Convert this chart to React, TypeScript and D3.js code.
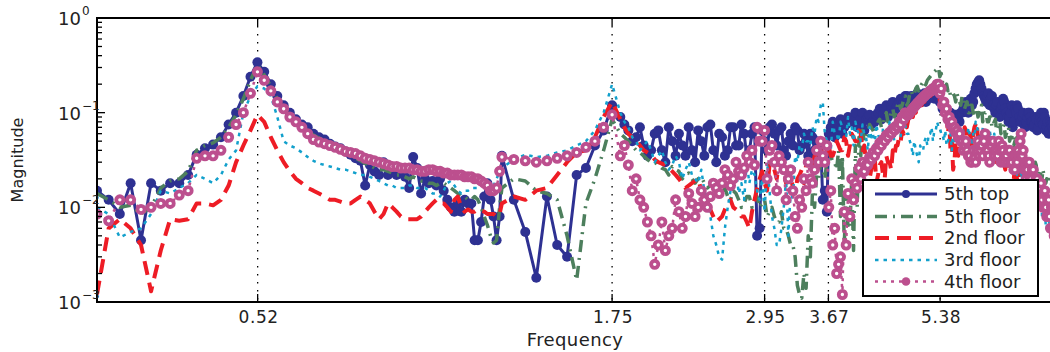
import React from 'react';
import * as d3 from 'd3';

// frequency sampling: fine grid below 1.2, coarser grid above,
// plus a set of in-between samples above 1.8 where the spectra get noisy
const LOW_F0 = 0.3;
const LOW_DF = 0.0122;
const HIGH_F0 = 1.2;
const HIGH_DF = 0.05;
const MID_F0 = 1.825;
const MID_DF = 0.05;

// 5th top
const topLow = [
  0.015, 0.012, 0.0085, 0.018, 0.0045, 0.018, 0.015, 0.018, 0.018, 0.022,
  0.036, 0.042, 0.046, 0.055, 0.075, 0.1, 0.15, 0.24, 0.34, 0.27,
  0.2, 0.15, 0.12, 0.1, 0.085, 0.075, 0.07, 0.06, 0.055, 0.052,
  0.047, 0.044, 0.042, 0.039, 0.036, 0.033, 0.031, 0.017, 0.028, 0.024,
  0.022, 0.03, 0.022, 0.025, 0.022, 0.023, 0.021, 0.016, 0.034, 0.026,
  0.014, 0.02, 0.018, 0.019, 0.017, 0.02, 0.015, 0.012, 0.01, 0.009,
  0.011, 0.009, 0.012, 0.011, 0.011, 0.0045, 0.0045, 0.007, 0.013, 0.018,
  0.012, 0.008, 0.0045, 0.008,
];
const topHigh = [
  0.035, 0.012, 0.0055, 0.0018, 0.013, 0.004, 0.003, 0.022, 0.026, 0.045,
  0.065, 0.12, 0.09, 0.065, 0.055, 0.045, 0.04, 0.065, 0.03, 0.05,
  0.06, 0.035, 0.04, 0.065, 0.035, 0.075, 0.03, 0.055, 0.04, 0.07,
  0.045, 0.06, 0.04, 0.07, 0.006, 0.05, 0.07, 0.06, 0.065, 0.04,
  0.05, 0.045, 0.065, 0.045, 0.05, 0.06, 0.04, 0.03, 0.012, 0.009,
  0.07, 0.055, 0.075, 0.06, 0.075, 0.085, 0.09, 0.07, 0.085, 0.065,
  0.09, 0.075, 0.08, 0.1, 0.085, 0.11, 0.09, 0.12, 0.1, 0.12,
  0.14, 0.13, 0.15, 0.12, 0.14, 0.13, 0.15, 0.13, 0.16, 0.14,
  0.17, 0.15, 0.16, 0.14, 0.13, 0.12, 0.1, 0.09, 0.085, 0.09,
  0.08, 0.08, 0.1, 0.12, 0.11, 0.13, 0.12, 0.16, 0.2, 0.22,
  0.18, 0.15, 0.13, 0.16, 0.14, 0.12, 0.1, 0.13, 0.09, 0.12,
  0.13, 0.1, 0.08, 0.1, 0.07, 0.11, 0.12, 0.09, 0.08, 0.1,
  0.07, 0.09, 0.1, 0.08, 0.07, 0.09, 0.065, 0.08, 0.1, 0.075,
  0.09, 0.07, 0.06, 0.08, 0.07, 0.06, 0.07,
];
const topMid = [
  0.075, 0.05, 0.07, 0.035, 0.06, 0.04, 0.07, 0.035, 0.045, 0.07,
  0.03, 0.05, 0.07, 0.04, 0.06, 0.035, 0.07, 0.045, 0.075, 0.035,
  0.06, 0.005, 0.065, 0.04, 0.075, 0.045, 0.07, 0.035, 0.06, 0.07,
  0.04, 0.06, 0.035, 0.055, 0.05, 0.045, 0.015, 0.06, 0.08, 0.065,
  0.085, 0.07, 0.09, 0.08, 0.1, 0.075, 0.1, 0.085, 0.095, 0.08,
  0.095, 0.11, 0.095, 0.12, 0.1, 0.13, 0.11, 0.13, 0.12, 0.15,
  0.13, 0.15, 0.14, 0.16, 0.14, 0.15, 0.13, 0.16, 0.15, 0.14,
  0.15, 0.13, 0.11, 0.1, 0.09, 0.1, 0.08, 0.095, 0.085, 0.1,
  0.11, 0.13, 0.1, 0.14, 0.13, 0.18, 0.21, 0.2, 0.16, 0.14,
  0.15, 0.12, 0.15, 0.11, 0.12, 0.1, 0.11, 0.14, 0.11, 0.09,
  0.09, 0.12, 0.08, 0.1, 0.11, 0.08, 0.09, 0.075, 0.08, 0.1,
  0.09, 0.08, 0.075, 0.085, 0.07, 0.09, 0.08, 0.1, 0.065, 0.08,
  0.065, 0.075, 0.065, 0.06,
];

// 5th floor
const fifthLow = [
  0.014, 0.012, 0.01, 0.0105, 0.0085, 0.01, 0.016, 0.019, 0.02, 0.024,
  0.04, 0.045, 0.048, 0.055, 0.07, 0.095, 0.14, 0.22, 0.32, 0.25,
  0.19, 0.14, 0.11, 0.095, 0.08, 0.072, 0.065, 0.058, 0.054, 0.05,
  0.046, 0.043, 0.04, 0.038, 0.035, 0.033, 0.031, 0.029, 0.028, 0.026,
  0.025, 0.025, 0.024, 0.023, 0.022, 0.022, 0.021, 0.02, 0.021, 0.02,
  0.019, 0.019, 0.018, 0.018, 0.017, 0.018, 0.018, 0.017, 0.016, 0.015,
  0.014, 0.013, 0.013, 0.012, 0.012, 0.013, 0.012, 0.01, 0.008, 0.0065,
  0.005, 0.0042, 0.0045, 0.01,
];
const fifthHigh = [
  0.016, 0.02, 0.019, 0.015, 0.014, 0.012, 0.005, 0.0017, 0.011, 0.02,
  0.04, 0.085, 0.06, 0.05, 0.04, 0.035, 0.03, 0.028, 0.025, 0.027,
  0.024, 0.022, 0.02, 0.02, 0.018, 0.017, 0.015, 0.014, 0.013, 0.015,
  0.012, 0.011, 0.013, 0.012, 0.01, 0.012, 0.009, 0.008, 0.007, 0.006,
  0.005, 0.004, 0.0015, 0.0011, 0.0014, 0.003, 0.01, 0.02, 0.025, 0.03,
  0.035, 0.03, 0.04, 0.035, 0.015, 0.006, 0.0035, 0.01, 0.035, 0.05,
  0.06, 0.07, 0.06, 0.08, 0.07, 0.09, 0.08, 0.1, 0.09, 0.12,
  0.11, 0.14, 0.12, 0.16, 0.15, 0.18, 0.17, 0.2, 0.19, 0.22,
  0.24, 0.26, 0.28, 0.3, 0.26, 0.22, 0.2, 0.18, 0.16, 0.15,
  0.16, 0.13, 0.15, 0.11, 0.13, 0.1, 0.12, 0.09, 0.11, 0.1,
  0.12, 0.09, 0.1, 0.08, 0.09, 0.075, 0.085, 0.07, 0.08, 0.065,
  0.075, 0.06, 0.07, 0.055, 0.06, 0.05, 0.055, 0.045, 0.05, 0.04,
  0.035, 0.03, 0.028, 0.03, 0.025, 0.03, 0.022, 0.025, 0.02, 0.025,
  0.018, 0.02, 0.022, 0.018, 0.02, 0.016, 0.018,
];
const fifthMid = [
  0.055, 0.045, 0.038, 0.032, 0.03, 0.026, 0.022, 0.025, 0.02, 0.023,
  0.018, 0.021, 0.016, 0.018, 0.014, 0.016, 0.012, 0.014, 0.01, 0.013,
  0.01, 0.013, 0.011, 0.008, 0.01, 0.007, 0.009, 0.006, 0.004, 0.003,
  0.0012, 0.002, 0.005, 0.015, 0.022, 0.03, 0.02, 0.04, 0.03, 0.025,
  0.008, 0.004, 0.006, 0.02, 0.045, 0.055, 0.065, 0.055, 0.075, 0.065,
  0.07, 0.085, 0.075, 0.1, 0.085, 0.11, 0.1, 0.13, 0.12, 0.15,
  0.13, 0.17, 0.16, 0.19, 0.18, 0.21, 0.2, 0.23, 0.25, 0.27,
  0.29, 0.24, 0.21, 0.19, 0.17, 0.15, 0.16, 0.13, 0.14, 0.12,
  0.14, 0.12, 0.1, 0.12, 0.1, 0.11, 0.09, 0.1, 0.08, 0.1,
  0.08, 0.09, 0.07, 0.08, 0.065, 0.075, 0.06, 0.07, 0.055, 0.065,
  0.05, 0.055, 0.045, 0.05, 0.04, 0.045, 0.035, 0.04, 0.03, 0.035,
  0.028, 0.03, 0.024, 0.028, 0.022, 0.025, 0.02, 0.022, 0.018, 0.02,
  0.02, 0.017, 0.02, 0.017,
];

// 2nd floor
const secondLow = [
  0.0012, 0.006, 0.0075, 0.006, 0.004, 0.0013, 0.0035, 0.0075, 0.0072, 0.0075,
  0.011, 0.011, 0.0105, 0.012, 0.017, 0.03, 0.045, 0.065, 0.095, 0.08,
  0.055, 0.04, 0.03, 0.024, 0.02, 0.018, 0.016, 0.015, 0.014, 0.013,
  0.012, 0.012, 0.0115, 0.011, 0.011, 0.012, 0.013, 0.012, 0.011, 0.009,
  0.0075, 0.0085, 0.011, 0.01, 0.009, 0.008, 0.0075, 0.0075, 0.0075, 0.0075,
  0.008, 0.009, 0.01, 0.011, 0.012, 0.011, 0.011, 0.01, 0.009, 0.012,
  0.013, 0.01, 0.009, 0.0095, 0.009, 0.009, 0.0095, 0.0092, 0.009, 0.0085,
  0.0085, 0.0085, 0.008, 0.0085,
];
const secondHigh = [
  0.011, 0.013, 0.012, 0.015, 0.016, 0.022, 0.03, 0.038, 0.04, 0.055,
  0.09, 0.13, 0.085, 0.06, 0.05, 0.04, 0.036, 0.03, 0.028, 0.024,
  0.02, 0.016, 0.018, 0.02, 0.012, 0.0095, 0.007, 0.008, 0.011, 0.01,
  0.009, 0.008, 0.006, 0.012, 0.02, 0.018, 0.028, 0.025, 0.03, 0.022,
  0.02, 0.016, 0.02, 0.025, 0.028, 0.03, 0.035, 0.03, 0.038, 0.04,
  0.035, 0.04, 0.045, 0.04, 0.05, 0.045, 0.055, 0.05, 0.06, 0.045,
  0.03, 0.025, 0.035, 0.022, 0.03, 0.02, 0.03, 0.025, 0.035, 0.045,
  0.05, 0.06, 0.07, 0.08, 0.09, 0.1, 0.11, 0.12, 0.13, 0.14,
  0.15, 0.16, 0.17, 0.18, 0.15, 0.12, 0.1, 0.08, 0.05, 0.03,
  0.045, 0.06, 0.04, 0.07, 0.05, 0.06, 0.045, 0.07, 0.08, 0.06,
  0.05, 0.065, 0.045, 0.055, 0.04, 0.05, 0.035, 0.045, 0.03, 0.04,
  0.028, 0.035, 0.025, 0.03, 0.022, 0.028, 0.02, 0.025, 0.018, 0.022,
  0.016, 0.02, 0.015, 0.018, 0.014, 0.017, 0.013, 0.016, 0.012, 0.015,
  0.011, 0.014, 0.012, 0.013, 0.011, 0.012, 0.01,
];
const secondMid = [
  0.07, 0.055, 0.045, 0.038, 0.032, 0.029, 0.026, 0.022, 0.018, 0.017,
  0.019, 0.015, 0.011, 0.008, 0.0075, 0.0095, 0.012, 0.0095, 0.008, 0.007,
  0.009, 0.016, 0.024, 0.015, 0.03, 0.02, 0.026, 0.018, 0.022, 0.014,
  0.022, 0.018, 0.032, 0.025, 0.035, 0.04, 0.03, 0.045, 0.035, 0.05,
  0.04, 0.055, 0.035, 0.06, 0.05, 0.065, 0.04, 0.03, 0.02, 0.03,
  0.018, 0.028, 0.022, 0.035, 0.03, 0.04, 0.045, 0.055, 0.065, 0.075,
  0.085, 0.095, 0.105, 0.115, 0.125, 0.135, 0.14, 0.15, 0.155, 0.165,
  0.175, 0.13, 0.11, 0.09, 0.06, 0.04, 0.025, 0.05, 0.035, 0.055,
  0.05, 0.065, 0.04, 0.055, 0.06, 0.075, 0.05, 0.055, 0.045, 0.06,
  0.04, 0.05, 0.035, 0.045, 0.03, 0.04, 0.028, 0.035, 0.025, 0.032,
  0.024, 0.028, 0.02, 0.024, 0.017, 0.021, 0.015, 0.019, 0.014, 0.017,
  0.013, 0.016, 0.012, 0.015, 0.011, 0.013, 0.01, 0.013, 0.011, 0.012,
  0.01, 0.012, 0.011, 0.01,
];

// 3rd floor
const thirdLow = [
  0.01, 0.0085, 0.0048, 0.0055, 0.006, 0.0085, 0.015, 0.014, 0.016, 0.018,
  0.022, 0.02, 0.018, 0.022, 0.032, 0.04, 0.1, 0.15, 0.19, 0.18,
  0.15, 0.09, 0.05, 0.045, 0.042, 0.038, 0.034, 0.031, 0.029, 0.028,
  0.027, 0.026, 0.025, 0.025, 0.024, 0.023, 0.022, 0.022, 0.021, 0.02,
  0.019, 0.018, 0.017, 0.017, 0.016, 0.016, 0.016, 0.017, 0.017, 0.016,
  0.016, 0.016, 0.015, 0.014, 0.014, 0.013, 0.015, 0.018, 0.019, 0.017,
  0.015, 0.014, 0.015, 0.015, 0.016, 0.016, 0.016, 0.017, 0.017, 0.016,
  0.015, 0.017, 0.02, 0.024,
];
const thirdHigh = [
  0.026, 0.032, 0.036, 0.034, 0.035, 0.038, 0.04, 0.045, 0.05, 0.065,
  0.1, 0.2, 0.1, 0.07, 0.05, 0.045, 0.04, 0.035, 0.03, 0.028,
  0.03, 0.025, 0.022, 0.018, 0.015, 0.008, 0.004, 0.0028, 0.01, 0.02,
  0.014, 0.012, 0.018, 0.022, 0.012, 0.009, 0.015, 0.006, 0.004, 0.01,
  0.005, 0.012, 0.03, 0.04, 0.05, 0.045, 0.06, 0.08, 0.13, 0.05,
  0.04, 0.06, 0.05, 0.07, 0.055, 0.06, 0.045, 0.065, 0.05, 0.06,
  0.04, 0.055, 0.045, 0.06, 0.04, 0.055, 0.045, 0.06, 0.05, 0.065,
  0.055, 0.07, 0.06, 0.05, 0.035, 0.04, 0.03, 0.04, 0.05, 0.045,
  0.06, 0.05, 0.065, 0.07, 0.06, 0.05, 0.045, 0.055, 0.04, 0.05,
  0.06, 0.045, 0.055, 0.04, 0.05, 0.06, 0.045, 0.05, 0.07, 0.055,
  0.045, 0.06, 0.05, 0.04, 0.055, 0.045, 0.05, 0.04, 0.035, 0.045,
  0.04, 0.03, 0.035, 0.03, 0.025, 0.03, 0.022, 0.025, 0.02, 0.018,
  0.022, 0.016, 0.02, 0.014, 0.018, 0.012, 0.016, 0.01, 0.014, 0.008,
  0.012, 0.006, 0.01, 0.005, 0.008, 0.004, 0.006,
];
const thirdMid = [
  0.08, 0.055, 0.04, 0.05, 0.03, 0.04, 0.025, 0.035, 0.02, 0.03,
  0.02, 0.025, 0.012, 0.005, 0.003, 0.006, 0.015, 0.025, 0.018, 0.03,
  0.025, 0.015, 0.02, 0.03, 0.008, 0.004, 0.006, 0.02, 0.015, 0.035,
  0.045, 0.06, 0.05, 0.07, 0.09, 0.12, 0.06, 0.05, 0.08, 0.06,
  0.08, 0.065, 0.09, 0.07, 0.08, 0.06, 0.075, 0.055, 0.07, 0.06,
  0.075, 0.05, 0.07, 0.06, 0.08, 0.065, 0.085, 0.07, 0.09, 0.075,
  0.06, 0.045, 0.05, 0.035, 0.045, 0.04, 0.055, 0.06, 0.07, 0.065,
  0.08, 0.07, 0.06, 0.065, 0.05, 0.06, 0.07, 0.055, 0.065, 0.05,
  0.065, 0.05, 0.07, 0.055, 0.06, 0.08, 0.065, 0.055, 0.07, 0.06,
  0.05, 0.065, 0.055, 0.06, 0.05, 0.055, 0.045, 0.05, 0.04, 0.045,
  0.035, 0.04, 0.03, 0.035, 0.028, 0.03, 0.022, 0.025, 0.018, 0.022,
  0.015, 0.018, 0.012, 0.015, 0.01, 0.012, 0.008, 0.01, 0.006, 0.008,
  0.005, 0.007, 0.004, 0.005,
];

// 4th floor
const fourthLow = [
  0.0085, 0.0072, 0.012, 0.012, 0.0095, 0.01, 0.011, 0.011, 0.0135, 0.015,
  0.033, 0.035, 0.035, 0.04, 0.055, 0.075, 0.1, 0.16, 0.27, 0.22,
  0.17, 0.13, 0.11, 0.09, 0.08, 0.07, 0.06, 0.052, 0.049, 0.047,
  0.045, 0.043, 0.041, 0.039, 0.038, 0.037, 0.035, 0.033, 0.032, 0.031,
  0.03, 0.029, 0.028, 0.027, 0.027, 0.026, 0.026, 0.026, 0.025, 0.025,
  0.024, 0.024, 0.025, 0.025, 0.024, 0.024, 0.023, 0.023, 0.022, 0.022,
  0.022, 0.022, 0.021, 0.021, 0.021, 0.02, 0.02, 0.019, 0.018, 0.017,
  0.015, 0.015, 0.016, 0.024,
];
const fourthHigh = [
  0.034, 0.032, 0.031, 0.03, 0.031, 0.033, 0.035, 0.038, 0.043, 0.05,
  0.07, 0.095, 0.035, 0.028, 0.02, 0.01, 0.005, 0.004, 0.0035, 0.006,
  0.009, 0.008, 0.011, 0.01, 0.012, 0.013, 0.016, 0.018, 0.022, 0.02,
  0.024, 0.026, 0.03, 0.028, 0.05, 0.065, 0.04, 0.03, 0.035, 0.025,
  0.02, 0.015, 0.006, 0.01, 0.015, 0.02, 0.025, 0.03, 0.035, 0.045,
  0.015, 0.006, 0.0025, 0.0012, 0.004, 0.008, 0.012, 0.016, 0.02, 0.024,
  0.028, 0.032, 0.035, 0.04, 0.045, 0.05, 0.055, 0.06, 0.065, 0.07,
  0.075, 0.085, 0.095, 0.1, 0.11, 0.12, 0.13, 0.14, 0.15, 0.16,
  0.17, 0.18, 0.19, 0.2, 0.18, 0.13, 0.11, 0.09, 0.08, 0.07,
  0.065, 0.06, 0.05, 0.045, 0.04, 0.035, 0.03, 0.033, 0.04, 0.035,
  0.045, 0.05, 0.04, 0.035, 0.045, 0.05, 0.04, 0.035, 0.04, 0.045,
  0.03, 0.035, 0.04, 0.03, 0.035, 0.025, 0.03, 0.035, 0.06, 0.04,
  0.03, 0.025, 0.03, 0.02, 0.025, 0.015, 0.02, 0.012, 0.018, 0.01,
  0.015, 0.008, 0.012, 0.006, 0.01, 0.005, 0.004,
];
const fourthMid = [
  0.045, 0.015, 0.012, 0.007, 0.0025, 0.007, 0.005, 0.012, 0.006, 0.014,
  0.008, 0.015, 0.01, 0.018, 0.014, 0.025, 0.017, 0.03, 0.022, 0.035,
  0.04, 0.07, 0.05, 0.02, 0.045, 0.015, 0.03, 0.012, 0.025, 0.008,
  0.012, 0.02, 0.03, 0.018, 0.04, 0.05, 0.03, 0.01, 0.004, 0.002,
  0.003, 0.009, 0.014, 0.02, 0.018, 0.026, 0.03, 0.028, 0.034, 0.038,
  0.042, 0.048, 0.052, 0.058, 0.062, 0.068, 0.072, 0.08, 0.09, 0.1,
  0.095, 0.105, 0.115, 0.125, 0.135, 0.145, 0.155, 0.165, 0.17, 0.18,
  0.2, 0.16, 0.12, 0.1, 0.085, 0.075, 0.068, 0.062, 0.055, 0.05,
  0.04, 0.05, 0.035, 0.03, 0.04, 0.03, 0.05, 0.04, 0.035, 0.06,
  0.04, 0.03, 0.05, 0.035, 0.04, 0.05, 0.03, 0.04, 0.035, 0.03,
  0.04, 0.03, 0.025, 0.035, 0.04, 0.05, 0.035, 0.025, 0.02, 0.03,
  0.02, 0.025, 0.015, 0.02, 0.014, 0.016, 0.012, 0.014, 0.01, 0.012,
  0.008, 0.01, 0.006, 0.005,
];

const seriesNames = ['5th top', '5th floor', '2nd floor', '3rd floor', '4th floor'];
const xTicks = [0.52, 1.75, 2.95, 3.67, 5.38];
const xTickLabels = ['0.52', '1.75', '2.95', '3.67', '5.38'];

const styles = [
  { color: '#2e3192', width: 3, dash: undefined, marker: 'dot' },
  { color: '#4d7f5d', width: 3.5, dash: '12,6,2,6', marker: null },
  { color: '#ee1c25', width: 4, dash: '14,8', marker: null },
  { color: '#12a0cc', width: 2.5, dash: '3.5,5', marker: null },
  { color: '#bc4f8e', width: 2.5, dash: '3,5', marker: 'ring' },
];

const toPoints = (low: number[], high: number[], mid: number[]): [number, number][] => {
  const pts: [number, number][] = [
    ...low.map((v, i) => [LOW_F0 + i * LOW_DF, v] as [number, number]),
    ...high.map((v, j) => [HIGH_F0 + j * HIGH_DF, v] as [number, number]),
    ...mid.map((v, j) => [MID_F0 + j * MID_DF, v] as [number, number]),
  ];
  return pts.sort((a, b) => a[0] - b[0]);
};

const series = [
  toPoints(topLow, topHigh, topMid),
  toPoints(fifthLow, fifthHigh, fifthMid),
  toPoints(secondLow, secondHigh, secondMid),
  toPoints(thirdLow, thirdHigh, thirdMid),
  toPoints(fourthLow, fourthHigh, fourthMid),
];

export default function App() {
  const left = 97, top = 18, bottom = 302, right = 1056;
  const x = d3.scaleLog().domain([0.3, 8]).range([left, right]);
  const y = d3.scaleLog().domain([1e-3, 1]).range([bottom, top]);
  const line = d3.line<[number, number]>().x(d => x(d[0])).y(d => y(d[1]));
  const font = 'DejaVu Sans';

  const yTicks = y.ticks();
  const isMajor = (v: number) => Math.abs(Math.log10(v) - Math.round(Math.log10(v))) < 1e-6;

  const legendRows = [194, 216.5, 238, 260, 281.5];

  return (
    <svg width={1050} height={352} style={{ position: 'absolute', left: 0, top: 0, background: '#fff' }} fontFamily={font}>
      <defs>
        <clipPath id="plotArea">
          <rect x={left} y={top} width={right - left} height={bottom - top} />
        </clipPath>
      </defs>

      {/* dotted grid at the marked frequencies */}
      {xTicks.map(t => (
        <line key={t} x1={x(t)} x2={x(t)} y1={top} y2={bottom} stroke="#000" strokeWidth={1.3} strokeDasharray="1.5,6.5" />
      ))}

      <g clipPath="url(#plotArea)">
        {series.map((pts, si) => {
          const st = styles[si];
          return (
            <g key={si}>
              <path d={line(pts) || ''} fill="none" stroke={st.color} strokeWidth={st.width} strokeDasharray={st.dash} strokeLinejoin="round" />
              {st.marker === 'dot' && pts.map((p, k) => (
                <circle key={k} cx={x(p[0])} cy={y(p[1])} r={5} fill={st.color} />
              ))}
              {st.marker === 'ring' && pts.map((p, k) => (
                <circle key={k} cx={x(p[0])} cy={y(p[1])} r={3.6} fill="#fff" stroke={st.color} strokeWidth={3.8} />
              ))}
            </g>
          );
        })}
      </g>

      {/* axes box */}
      <line x1={left} x2={1050} y1={top} y2={top} stroke="#000" strokeWidth={2} />
      <line x1={left} x2={1050} y1={bottom} y2={bottom} stroke="#000" strokeWidth={2} />
      <line x1={left} x2={left} y1={top - 1} y2={bottom + 1} stroke="#000" strokeWidth={2} />

      {/* x ticks */}
      {xTicks.map((t, i) => (
        <g key={t}>
          <line x1={x(t)} x2={x(t)} y1={bottom} y2={bottom - 8} stroke="#000" strokeWidth={1.3} />
          <line x1={x(t)} x2={x(t)} y1={top} y2={top + 8} stroke="#000" strokeWidth={1.3} />
          <text x={x(t) + 1} y={323} textAnchor="middle" fontSize={17} letterSpacing={0.6} fill="#222">{xTickLabels[i]}</text>
        </g>
      ))}

      {/* y ticks */}
      {yTicks.map(v => (
        <line key={v} x1={left} x2={left + (isMajor(v) ? 8 : 5)} y1={y(v)} y2={y(v)} stroke="#000" strokeWidth={1.3} />
      ))}
      {yTicks.filter(isMajor).map(v => {
        const e = Math.round(Math.log10(v));
        return (
          <g key={v} fill="#222">
            <text x={81} y={y(v) + 7} textAnchor="end" fontSize={18}>10</text>
            <text x={82} y={y(v) - 3} fontSize={12}>{e === 0 ? '0' : `\u2212${-e}`}</text>
          </g>
        );
      })}

      <text x={575} y={346} textAnchor="middle" fontSize={18} letterSpacing={0.4} fill="#222">Frequency</text>
      <text transform="translate(23,160) rotate(-90)" textAnchor="middle" fontSize={16} fill="#222">Magnitude</text>

      {/* legend */}
      <rect x={863} y={180} width={175} height={116} fill="#fff" stroke="#000" strokeWidth={2} />
      {seriesNames.map((name, i) => {
        const st = styles[i];
        const ly = legendRows[i];
        return (
          <g key={name}>
            <line x1={875} x2={937} y1={ly} y2={ly} stroke={st.color} strokeWidth={st.width} strokeDasharray={st.dash} />
            {st.marker && <circle cx={906} cy={ly} r={st.marker === 'dot' ? 4 : 4.3} fill={st.color} />}
            <text x={944} y={ly + 6} fontSize={18} fill="#222">{name}</text>
          </g>
        );
      })}
    </svg>
  );
}
